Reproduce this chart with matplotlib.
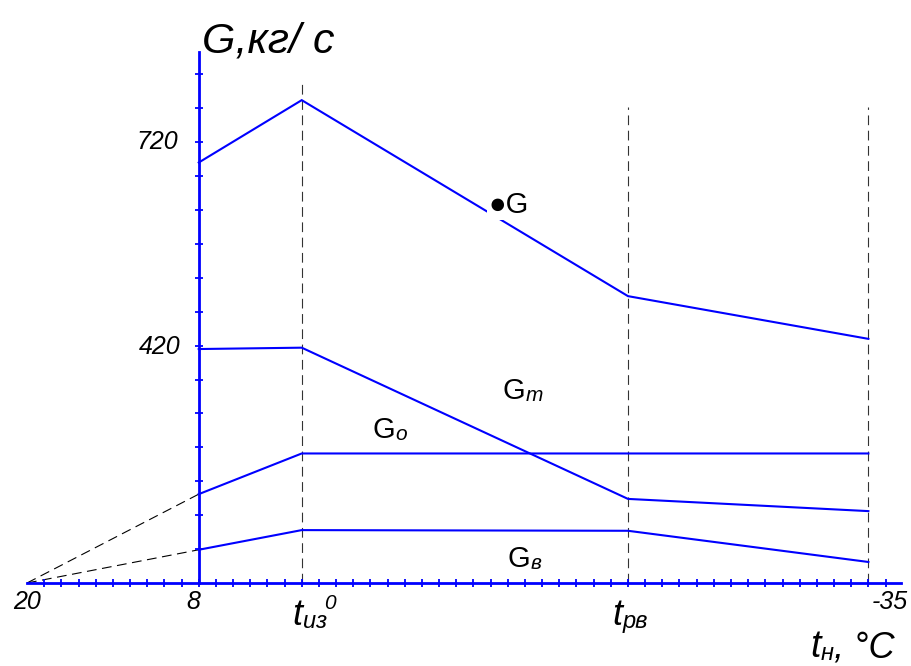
import matplotlib
matplotlib.use('Agg')
import matplotlib.pyplot as plt
from matplotlib import font_manager

# ---------------- data ----------------
# x scale: one unit per axis tick, the "20" point is at 0
x_break = [10, 16, 35, 49]            # y-axis (8), t_из, t_рв, -35
G_total = [690, 782, 493, 430]
G_t = [415, 417, 194, 176]
G_o = [201, 261, 261, 261]
G_v = [119, 148, 147, 101]
x_origin = 0
G_origin = 70                         # value at which the x axis sits
vline_x = [16, 35, 49]
vline_top = [812, 772, 772]
x_tick_pos = list(range(1, 51))
y_tick_pos = list(range(120, 821, 50))
x_labels = ['20', '8', '0', '-35']
x_label_pos = [0, 9.67, 17.65, 50.26]
x_label_size = [18, 18, 15, 18]
y_labels = ['720', '420']
y_label_pos = [720, 418]
y_label_x = [7.6, 7.75]
x_max = 50.9
y_max = 853

# curve labels: (big part, small part, x, y)
curve_labels = [('●G', '', 26.85, 616),
                ('G', 'т', 27.7, 341),
                ('G', 'о', 20.1, 284),
                ('G', 'в', 28.0, 94)]
tick_names = [('t', 'из', 15.45), ('t', 'рв', 34.07)]

# ---------------- fonts ----------------
avail = {f.name for f in font_manager.fontManager.ttflist}
FAM = [f for f in ['Liberation Sans Narrow', 'Liberation Sans', 'DejaVu Sans'] if f in avail]
plt.rcParams['font.family'] = FAM
plt.rcParams['lines.scale_dashes'] = False

BLUE = '#0000ff'
W, H = 911, 666
fig = plt.figure(figsize=(W / 100, H / 100), dpi=100)
ax = fig.add_axes([27 / W, (H - 583) / H, (901 - 27) / W, (583 - 52) / H])
ax.set_xlim(x_origin, x_max)
ax.set_ylim(G_origin, y_max)

for s in ['top', 'right']:
    ax.spines[s].set_visible(False)
ax.spines['left'].set_position(('data', x_break[0]))
for s in ['left', 'bottom']:
    ax.spines[s].set_color(BLUE)
    ax.spines[s].set_linewidth(2.0)
ax.set_xticks(x_tick_pos)
ax.set_yticks(y_tick_pos)
ax.tick_params(direction='inout', length=5.5, width=1.3, color=BLUE,
               labelbottom=False, labelleft=False)
ax.patch.set_alpha(0)

# dashed verticals
for xv, top in zip(vline_x, vline_top):
    ax.plot([xv, xv], [G_origin, top], color='#333333', lw=0.8,
            dashes=(7, 4), zorder=1)
# dashed extrapolations to origin
for series in (G_o, G_v):
    ax.plot([x_origin, x_break[0]], [G_origin, series[0]], color='black',
            lw=0.8, dashes=(7, 4), zorder=1)

for series in (G_total, G_t, G_o, G_v):
    ax.plot(x_break, series, color=BLUE, lw=1.5, zorder=2, solid_joinstyle='miter')

# axis numbers
for lab, pos, fs in zip(x_labels, x_label_pos, x_label_size):
    ax.annotate(lab, xy=(pos, G_origin), xytext=(0, -18.5), textcoords='offset points',
                ha='center', va='baseline', fontsize=fs, style='italic', annotation_clip=False)
for lab, pos, xx in zip(y_labels, y_label_pos, y_label_x):
    ax.text(xx, pos, lab, ha='center', va='center', fontsize=18, style='italic')


def compound(parent_text, parts, shift=0.3):
    prev = parent_text
    for txt, fs in parts:
        prev = ax.annotate(txt, xy=(1, 0), xycoords=prev, xytext=(shift, 0),
                           textcoords='offset points', ha='left', va='bottom',
                           fontsize=fs, style='italic', annotation_clip=False)
    return prev


# curve labels
for big, small, xx, yy in curve_labels:
    kw = {}
    if big.startswith('●'):
        kw['bbox'] = dict(boxstyle='square,pad=0.05', fc='white', ec='none')
    t = ax.text(xx, yy, big, ha='left', va='baseline', fontsize=21, zorder=3, **kw)
    if small:
        compound(t, [(small, 15)])

# t_из, t_рв below axis
for big, small, xx in tick_names:
    t = ax.annotate(big, xy=(xx, G_origin), xytext=(0, -30), textcoords='offset points',
                    ha='left', va='baseline', fontsize=26, style='italic', annotation_clip=False)
    compound(t, [(small, 17)])

# axis titles
fig.text(202 / W, 1 - 52 / H, 'G,кг/ с', fontsize=31, style='italic', ha='left', va='baseline')
tn = fig.text(810 / W, 1 - 657 / H, 't', fontsize=27, style='italic', ha='left', va='baseline')
compound(tn, [('н', 17), (', °C', 26)])

fig.savefig('out.png', dpi=100)
